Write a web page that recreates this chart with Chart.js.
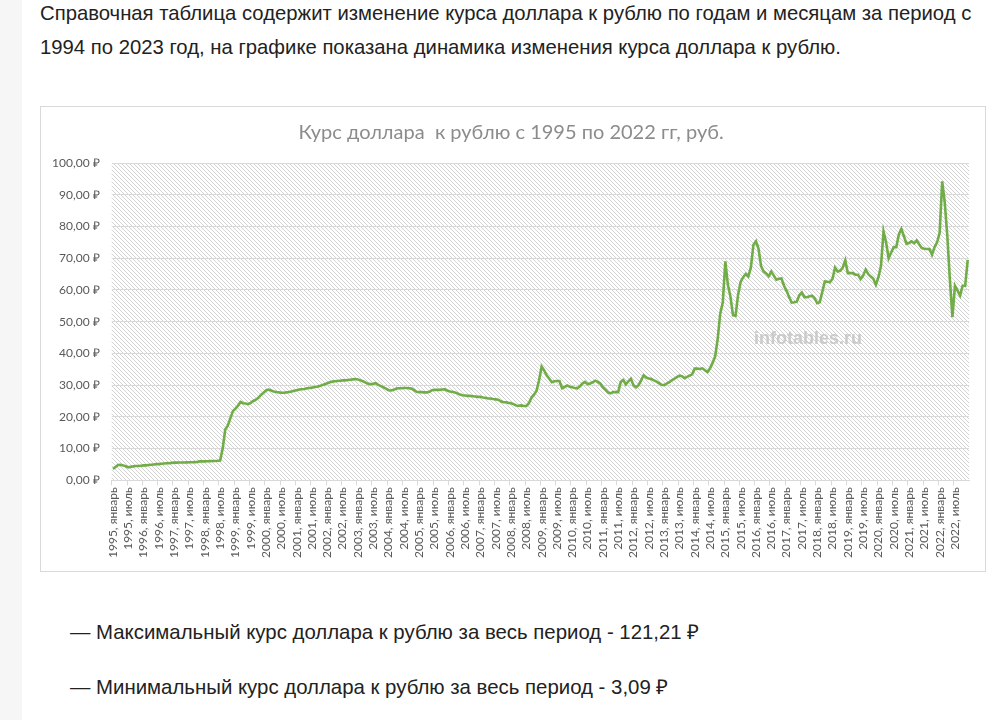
<!DOCTYPE html>
<html lang="ru">
<head>
<meta charset="utf-8">
<title>Курс доллара к рублю с 1995 по 2022 гг</title>
<script src="https://cdn.jsdelivr.net/npm/chart.js@4.4.1/dist/chart.umd.min.js"></script>
<style>
  html, body { margin: 0; padding: 0; background: #fff; }
  body {
    width: 995px; height: 720px; position: relative; overflow: hidden;
    font-family: "Liberation Sans", Arial, sans-serif; color: #222;
  }
  .side { position: absolute; left: 0; top: 0; width: 22px; height: 720px; background: #f6f6f6; }
  .intro {
    position: absolute; left: 40px; top: -4px; margin: 0;
    font-size: 20.3px; line-height: 34px; white-space: nowrap;
  }
  .box {
    position: absolute; left: 40px; top: 106px;
    width: 944px; height: 464px; border: 1px solid #d9d9d9;
  }
  .box canvas { display: block; }
  .note {
    position: absolute; left: 70px; margin: 0; white-space: nowrap;
    font-family: "Liberation Sans Narrow", "Liberation Sans", Arial, sans-serif;
    font-size: 20.4px; line-height: 24px;
  }
</style>
</head>
<body>
<div class="side"></div>
<p class="intro">Справочная таблица содержит изменение курса доллара к рублю по годам и месяцам за период с<br>1994 по 2023 год, на графике показана динамика изменения курса доллара к рублю.</p>

<div class="box">
  <canvas id="chart" width="944" height="464"></canvas>
</div>

<p class="note" style="top:620px">— Максимальный курс доллара к рублю за весь период - 121,21 ₽</p>
<p class="note" style="top:675px">— Минимальный курс доллара к рублю за весь период - 3,09 ₽</p>

<script>
// categories
const years = [1995, 1996, 1997, 1998, 1999, 2000, 2001, 2002, 2003, 2004,
    2005, 2006, 2007, 2008, 2009, 2010, 2011, 2012, 2013, 2014,
    2015, 2016, 2017, 2018, 2019, 2020, 2021, 2022];
const months = ["январь", "февраль", "март", "апрель", "май", "июнь",
    "июль", "август", "сентябрь", "октябрь", "ноябрь", "декабрь"];

// months that get a label on the x axis
const tickMonths = ["январь", "июль"];

// rub per usd, one row per year (jan..dec)
const rates = [
    3.6, 4.2, 4.8, 4.9, 4.7, 4.4, 4.1, 4.3, 4.4, 4.5, 4.5, 4.6,             // 1995
    4.7, 4.7, 4.8, 4.9, 5.0, 5.1, 5.1, 5.2, 5.3, 5.35, 5.4, 5.5,            // 1996
    5.56, 5.57, 5.6, 5.62, 5.63, 5.65, 5.68, 5.7, 5.72, 5.75, 5.95, 5.96,   // 1997
    5.97, 6.0, 6.03, 6.07, 6.1, 6.15, 6.22, 10.0, 16.0, 17.2, 19.5, 21.8,   // 1998
    22.6, 23.5, 24.7, 24.3, 24.2, 24.0, 24.4, 25.0, 25.4, 26.0, 26.9, 27.6, // 1999
    28.3, 28.6, 28.3, 28.0, 27.8, 27.7, 27.6, 27.6, 27.7, 27.8, 28.0, 28.2, // 2000
    28.4, 28.6, 28.7, 28.8, 29.0, 29.1, 29.2, 29.4, 29.5, 29.7, 30.0, 30.3, // 2001
    30.6, 30.9, 31.1, 31.2, 31.3, 31.4, 31.5, 31.5, 31.6, 31.7, 31.8, 31.9, // 2002
    31.8, 31.5, 31.2, 30.8, 30.4, 30.3, 30.4, 30.6, 30.1, 29.7, 29.3, 28.9, // 2003
    28.4, 28.3, 28.5, 28.9, 29.0, 29.0, 29.1, 29.1, 29.0, 28.9, 28.4, 27.9, // 2004
    27.8, 27.8, 27.7, 27.7, 27.9, 28.4, 28.5, 28.5, 28.5, 28.6, 28.7, 28.3, // 2005
    28.0, 27.9, 27.7, 27.4, 27.0, 26.8, 26.7, 26.6, 26.6, 26.5, 26.4, 26.3, // 2006
    26.3, 26.1, 26.0, 25.8, 25.8, 25.6, 25.5, 25.4, 24.9, 24.6, 24.6, 24.4, // 2007
    24.3, 24.0, 23.6, 23.5, 23.6, 23.4, 23.4, 24.3, 26.0, 27.0, 28.2, 31.5, // 2008
    35.8, 34.6, 33.0, 32.0, 30.9, 31.2, 31.3, 31.3, 29.0, 29.4, 29.9, 29.5, // 2009
    29.3, 29.1, 29.0, 29.6, 30.5, 31.0, 30.3, 30.5, 30.9, 31.4, 31.0, 30.5, // 2010
    29.3, 28.6, 27.7, 27.4, 27.8, 27.8, 27.8, 31.0, 31.6, 30.2, 31.2, 32.0, // 2011
    30.0, 29.3, 30.0, 31.5, 33.1, 32.4, 32.1, 31.9, 31.5, 31.1, 30.6, 30.1, // 2012
    30.0, 30.5, 30.9, 31.5, 32.0, 32.5, 33.0, 32.8, 32.2, 32.6, 33.0, 33.4, // 2013
    35.2, 35.2, 35.1, 35.3, 34.7, 34.1, 35.3, 37.0, 39.0, 44.5, 52.5, 56.0, // 2014
    69.0, 61.6, 57.9, 52.0, 51.8, 58.5, 62.5, 64.0, 65.0, 64.2, 67.0, 74.2, // 2015
    75.3, 73.0, 67.5, 65.8, 65.2, 64.3, 65.8, 64.5, 63.2, 63.5, 63.6, 61.3, // 2016
    59.7, 57.8, 56.0, 56.1, 56.3, 58.3, 59.2, 57.7, 57.7, 58.0, 58.2, 57.4, // 2017
    55.8, 56.1, 59.4, 62.7, 62.6, 62.4, 63.5, 67.0, 65.8, 66.0, 67.0, 69.3, // 2018
    65.3, 65.3, 65.3, 64.8, 64.8, 63.4, 64.5, 66.4, 65.0, 64.2, 63.5, 61.6, // 2019
    64.0, 67.5, 78.4, 75.0, 70.0, 71.8, 73.5, 73.5, 77.5, 79.2, 76.9, 74.5, // 2020
    74.8, 75.3, 74.7, 75.6, 74.3, 73.2, 73.0, 72.9, 72.9, 71.1, 73.5, 75.0, // 2021
    78.0, 94.2, 87.5, 77.0, 63.3, 51.4, 61.3, 59.8, 58.2, 61.3, 61.3, 69.5  // 2022
];

const labels = [];
years.forEach(y => months.forEach(m => labels.push(y + ", " + m)));

const gridColor = "#d9d9d9";
const textColor = "#595959";
const chartFont = "Lato, 'Liberation Sans', sans-serif";

// excel style "light downward diagonal" fill behind the plot
const hatchFill = {
    id: "hatchFill",
    beforeDraw(chart) {
        const { ctx, chartArea: a } = chart;
        const tile = document.createElement("canvas");
        tile.width = 8;
        tile.height = 8;
        const t = tile.getContext("2d");
        t.fillStyle = "#ffffff";
        t.fillRect(0, 0, 8, 8);
        t.fillStyle = "#d2d2d2";
        for (let i = 0; i < 8; i++) {
            t.fillRect(i, i, 1, 1);
            t.fillRect(i, (i + 4) % 8, 1, 1);
        }
        ctx.save();
        ctx.fillStyle = ctx.createPattern(tile, "repeat");
        ctx.fillRect(a.left, a.top, a.width, a.height);
        ctx.restore();
    }
};

const watermark = {
    id: "watermark",
    beforeDatasetsDraw(chart) {
        const ctx = chart.ctx;
        ctx.save();
        ctx.font = "bold 18px 'Liberation Sans', Arial, sans-serif";
        ctx.fillStyle = "rgba(200,200,200,0.95)";
        ctx.textBaseline = "middle";
        ctx.fillText("infotables.ru", 713, 232);
        ctx.restore();
    }
};

new Chart(document.getElementById("chart"), {
    type: "line",
    data: {
        labels: labels,
        datasets: [{
            label: "Курс доллара",
            data: rates,
            borderColor: "#70ad47",
            borderWidth: 2.6,
            pointRadius: 0,
            tension: 0,
            fill: false
        }]
    },
    options: {
        responsive: false,
        animation: false,
        layout: { padding: { left: 12, right: 16, top: 0, bottom: 0 } },
        plugins: {
            legend: { display: false },
            tooltip: { enabled: false },
            title: {
                display: true,
                text: "Курс доллара  к рублю с 1995 по 2022 гг, руб.",
                color: "#8c8c8c",
                font: { family: chartFont, size: 20, weight: "normal", lineHeight: 1.2 },
                padding: { top: 14, bottom: 18 }
            }
        },
        scales: {
            x: {
                offset: true,
                afterFit(scale) { scale.height = 90.7; },
                grid: {
                    offset: true,
                    drawOnChartArea: false,
                    tickLength: 5,
                    color: ctx => ctx.index % 6 === 0 ? gridColor : "rgba(0,0,0,0)"
                },
                border: { display: true, color: gridColor },
                ticks: {
                    autoSkip: false,
                    minRotation: 90,
                    maxRotation: 90,
                    padding: 2,
                    color: textColor,
                    font: { family: chartFont, size: 12 },
                    callback(value, index) {
                        const m = months[index % 12];
                        return tickMonths.includes(m) ? labels[index] : "";
                    }
                }
            },
            y: {
                min: 0,
                max: 100,
                afterFit(scale) { scale.width = 58.7; },
                grid: { color: gridColor, drawTicks: false },
                border: { display: false },
                ticks: {
                    stepSize: 10,
                    padding: 12,
                    color: textColor,
                    font: { family: chartFont, size: 12 },
                    callback: v => v.toFixed(2).replace(".", ",") + " ₽"
                }
            }
        }
    },
    plugins: [hatchFill, watermark]
});
</script>
</body>
</html>
